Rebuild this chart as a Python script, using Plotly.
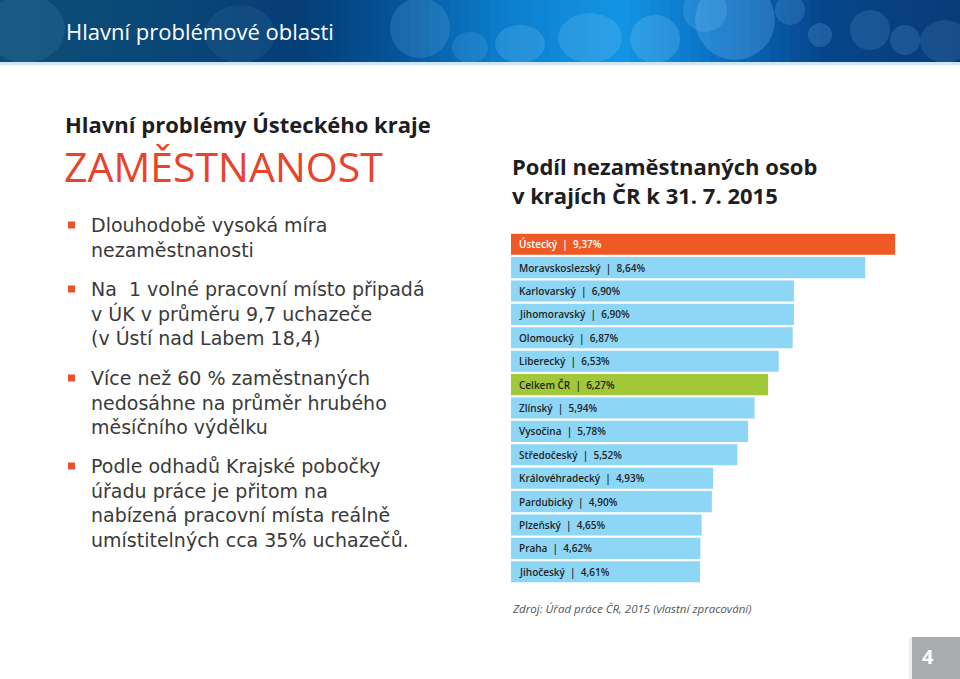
import plotly.graph_objects as go

W, H = 960, 679

regions = ["Ústecký", "Moravskoslezský", "Karlovarský", "Jihomoravský", "Olomoucký",
           "Liberecký", "Celkem ČR", "Zlínský", "Vysočina", "Středočeský",
           "Královéhradecký", "Pardubický", "Plzeňský", "Praha", "Jihočeský"]
values = [9.37, 8.64, 6.90, 6.90, 6.87, 6.53, 6.27, 5.94, 5.78, 5.52,
          4.93, 4.90, 4.65, 4.62, 4.61]
value_labels = ["9,37%", "8,64%", "6,90%", "6,90%", "6,87%", "6,53%", "6,27%", "5,94%",
                "5,78%", "5,52%", "4,93%", "4,90%", "4,65%", "4,62%", "4,61%"]

ORANGE = "#EF5A24"
BLUE = "#8DD6F5"
GREEN = "#A2C83A"
colors = [ORANGE if r == "Ústecký" else GREEN if r == "Celkem ČR" else BLUE for r in regions]
text_colors = ["#ffffff" if r == "Ústecký" else "#1f1f1f" for r in regions]


def px(x):
    return x / W


def py(y):
    return 1 - y / H


fig = go.Figure()
fig.add_trace(go.Bar(
    x=values, y=regions, orientation="h",
    marker=dict(color=colors, line=dict(width=0)),
    hoverinfo="skip", showlegend=False,
))

shapes = []
annotations = []

# Header gradient stripes (decoration)
stops = [(0, (14, 78, 118)), (150, (10, 72, 120)), (300, (6, 62, 118)), (400, (5, 85, 155)),
         (500, (12, 125, 205)), (620, (20, 150, 228)), (720, (10, 110, 195)),
         (820, (6, 70, 140)), (960, (8, 60, 120))]


def col_at(x):
    for (x0, c0), (x1, c1) in zip(stops[:-1], stops[1:]):
        if x0 <= x <= x1:
            t = (x - x0) / (x1 - x0)
            return "rgb(%d,%d,%d)" % tuple(int(a + (b - a) * t) for a, b in zip(c0, c1))
    return "rgb(8,60,120)"


step = 10
for x in range(0, W, step):
    shapes.append(dict(type="rect", xref="paper", yref="paper",
                       x0=px(x), x1=px(x + step + 1), y0=py(63), y1=py(0),
                       fillcolor=col_at(x + step / 2), line=dict(width=0), layer="below"))

circles = [(25, 35, 40, 0.10), (240, 40, 35, 0.08), (420, 28, 30, 0.16), (470, 50, 18, 0.14),
           (520, 50, 25, 0.2), (590, 45, 32, 0.2), (655, 40, 25, 0.22), (705, 10, 22, 0.18),
           (735, 20, 40, 0.22), (790, 10, 15, 0.16), (820, 35, 12, 0.18), (870, 30, 20, 0.14),
           (905, 40, 15, 0.16), (945, 45, 25, 0.12)]
for cx, cy, r, op in circles:
    shapes.append(dict(type="circle", xref="paper", yref="paper",
                       x0=px(cx - r), x1=px(cx + r), y0=py(min(cy + r, 63)), y1=py(cy - r),
                       fillcolor="rgba(140,210,255,%.2f)" % op, line=dict(width=0), layer="below"))

# header bottom line
shapes.append(dict(type="rect", xref="paper", yref="paper", x0=0, x1=1,
                   y0=py(65), y1=py(62), fillcolor="#cfe6f5", line=dict(width=0), layer="below"))

annotations.append(dict(text="Hlavní problémové oblasti", x=px(64), y=py(31), xref="paper", yref="paper",
                        xanchor="left", yanchor="middle", showarrow=False,
                        font=dict(family="Open Sans", size=22, color="#ffffff")))

# Left column
annotations.append(dict(text="<b>Hlavní problémy Ústeckého kraje</b>", x=px(63), y=py(124),
                        xref="paper", yref="paper", xanchor="left", yanchor="middle", showarrow=False,
                        font=dict(family="Open Sans", size=22, color="#1e1e1e")))
annotations.append(dict(text="ZAMĚSTNANOST", x=px(62), y=py(166), xref="paper", yref="paper",
                        xanchor="left", yanchor="middle", showarrow=False,
                        font=dict(family="Open Sans", size=41, color="#E8432B", weight=500)))

bullets = [
    ["Dlouhodobě vysoká míra", "nezaměstnanosti"],
    ["Na  1 volné pracovní místo připadá", "v ÚK v průměru 9,7 uchazeče", "(v Ústí nad Labem 18,4)"],
    ["Více než 60 % zaměstnaných", "nedosáhne na průměr hrubého", "měsíčního výdělku"],
    ["Podle odhadů Krajské pobočky", "úřadu práce je přitom na", "nabízená pracovní místa reálně",
     "umístitelných cca 35% uchazečů."],
]
bullet_y = [225, 289, 378, 466]
fs = 19
lh = 1.3 * fs
for lines, y0 in zip(bullets, bullet_y):
    shapes.append(dict(type="rect", xref="paper", yref="paper", x0=px(68), x1=px(75),
                       y0=py(y0 + 3.5), y1=py(y0 - 3.5), fillcolor="#E8532B", line=dict(width=0)))
    yc = y0 + (len(lines) - 1) * lh / 2
    annotations.append(dict(text="<br>".join(lines), x=px(89), y=py(yc), xref="paper", yref="paper",
                            xanchor="left", yanchor="middle", align="left", showarrow=False,
                            font=dict(family="DejaVu Sans", size=fs, color="#3a3a3a")))

# Chart title
annotations.append(dict(text="Podíl nezaměstnaných osob<br>v krajích ČR k 31. 7. 2015", x=px(510),
                        y=py(181), xref="paper", yref="paper",
                        xanchor="left", yanchor="middle", align="left", showarrow=False,
                        font=dict(family="Open Sans", size=22, color="#1e1e1e", weight=700)))

# Bar labels
for r, v, c in zip(regions, value_labels, text_colors):
    annotations.append(dict(text=f"{r}  |  {v}", x=0, y=r, xref="x", yref="y",
                            xanchor="left", yanchor="middle", xshift=6, showarrow=False,
                            font=dict(family="Open Sans", size=10, color=c, weight=600)))

annotations.append(dict(text="<i>Zdroj: Úřad práce ČR, 2015 (vlastní zpracování)</i>", x=px(510), y=py(608),
                        xref="paper", yref="paper", xanchor="left", yanchor="middle", showarrow=False,
                        font=dict(family="Open Sans", size=11.5, color="#555555")))

# Page number box
shapes.append(dict(type="rect", xref="paper", yref="paper", x0=px(909), x1=px(912),
                   y0=0, y1=py(637), fillcolor="#eeeeee", line=dict(width=0)))
shapes.append(dict(type="rect", xref="paper", yref="paper", x0=px(912), x1=1,
                   y0=0, y1=py(637), fillcolor="#A9ABAE", line=dict(width=0)))
annotations.append(dict(text="<b>4</b>", x=px(928), y=py(656), xref="paper", yref="paper",
                        xanchor="center", yanchor="middle", showarrow=False,
                        font=dict(family="Open Sans", size=20, color="#ffffff")))

x0_px, x1_px = 511, 900
px_per_pct = 41.0
fig.update_layout(
    width=W, height=H, autosize=False,
    margin=dict(l=0, r=0, t=0, b=0),
    paper_bgcolor="#ffffff", plot_bgcolor="rgba(0,0,0,0)",
    bargap=0.1,
    shapes=shapes, annotations=annotations,
    xaxis=dict(domain=[px(x0_px), px(x1_px)], range=[0, (x1_px - x0_px) / px_per_pct],
               visible=False, fixedrange=True),
    yaxis=dict(domain=[py(583.5), py(232.5)], autorange="reversed", visible=False,
               type="category", fixedrange=True),
)

fig.write_html("out.html", config={"displayModeBar": False},
               post_script="document.body.style.margin='0';document.body.style.overflow='hidden';")
